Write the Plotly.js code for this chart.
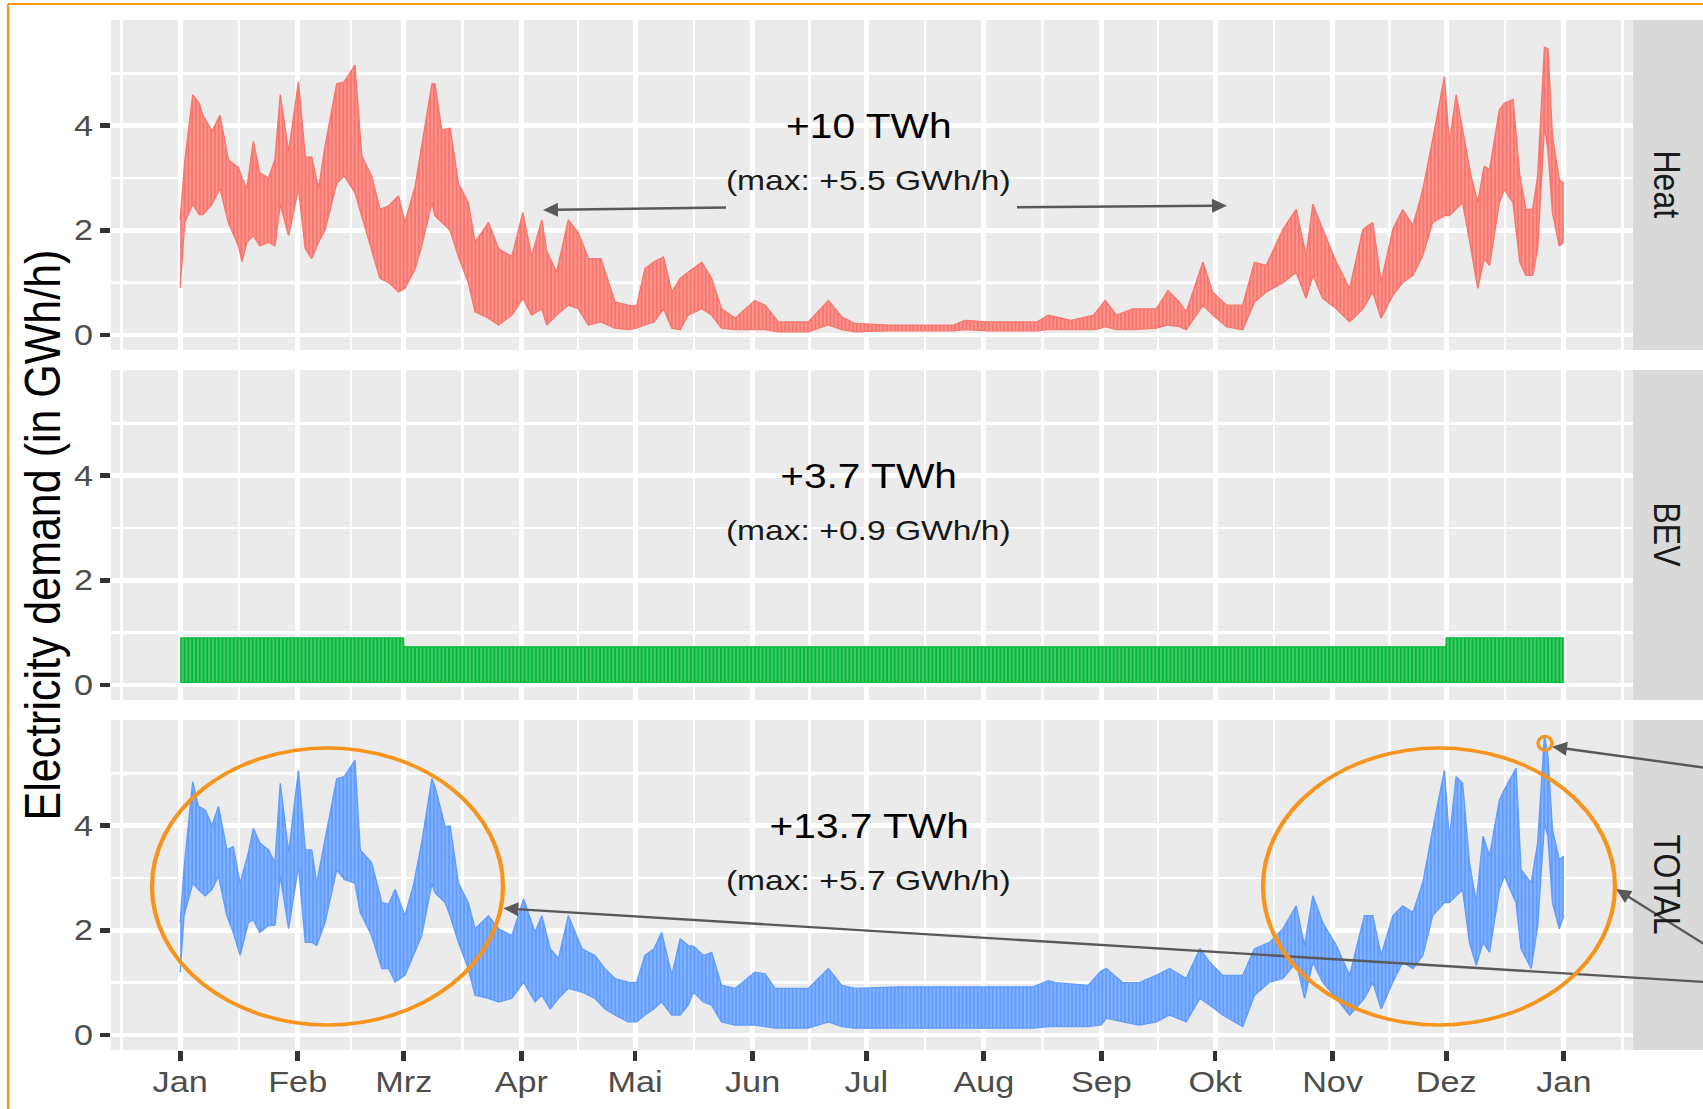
<!DOCTYPE html>
<html>
<head>
<meta charset="utf-8">
<script src="https://cdn.plot.ly/plotly-3.0.1.min.js"></script>
<style>
html,body{margin:0;padding:0;background:#ffffff;overflow:hidden;width:1703px;height:1109px;}
#wrap{width:1443px;height:1109px;transform:scaleX(1.18018);transform-origin:0 0;}
</style>
</head>
<body>
<div id="wrap"></div>
<script>
// ---------------- data ----------------
const monthLabels = ['Jan','Feb','Mrz','Apr','Mai','Jun','Jul','Aug','Sep','Okt','Nov','Dez','Jan'];
const monthStartDays = [0,31,59,90,120,151,181,212,243,273,304,334,365];

// Heat: day of year, upper and lower envelope of the hourly profile (GWh/h)
const heatDays = [0,1.2,3.3,5,6,8.4,10.5,12.7,15.4,16.3,17.6,19.3,21,23.3,25,26.4,28.6,31.2,33,34.7,36.5,38.2,41.3,43.3,46.1,47.9,50.5,52.7,55,57.6,59.3,62,63.7,66.4,67.2,69,71.2,73.4,76,77.8,81.3,84,87.5,90.4,92.7,95.4,96.7,99.3,102.4,105,107.7,111,114.7,118.2,120.4,122.6,125,127.5,129.7,131.9,134,137.6,140.2,142.8,146.4,151.6,154.3,157.8,165.7,171,174.5,178,187,196,204,207,213,220,226,229,235,241,243,244,247,251.3,257.5,260.6,263.6,265.4,269.8,272.4,276,280.3,283.4,286.5,290.9,294.4,297,298.8,301.4,305,308.5,312,314.6,316.8,319.9,322.5,325.2,327.8,330.4,333.5,334.8,336.6,338.3,340.5,342.3,344,345.4,348,349.3,351.6,353.4,355,356.8,358.1,359.9,360.8,362,363.8,365];
const heatHi = [2.2,3.3,4.59,4.43,4.2,3.9,4.2,3.35,3.2,3.0,2.8,3.7,3.1,3.0,3.35,4.59,3.5,4.84,3.4,3.4,2.8,3.6,4.8,4.84,5.16,3.42,3.04,2.4,2.47,2.66,2.15,2.85,3.6,4.8,4.8,3.92,3.95,2.9,2.53,1.77,2.15,1.65,1.5,2.34,1.5,2.2,1.6,1.2,2.2,1.96,1.46,1.46,0.63,0.57,0.55,1.27,1.4,1.49,0.82,1.08,1.2,1.39,1.08,0.5,0.32,0.66,0.57,0.25,0.25,0.66,0.35,0.22,0.19,0.19,0.19,0.28,0.25,0.25,0.25,0.38,0.28,0.38,0.57,0.66,0.38,0.5,0.5,0.85,0.63,0.44,1.39,0.82,0.57,0.57,1.39,1.33,2.02,2.4,1.52,2.5,2.02,1.39,0.89,2.02,2.15,1.01,2.02,2.4,2.09,2.78,3.73,4.94,3.67,4.59,3.92,3.04,2.53,3.23,3.16,4.3,4.43,4.5,3.04,2.4,2.4,3.04,5.5,5.47,3.8,2.97,2.9];
const heatLo = [0.9,2.15,2.5,2.3,2.3,2.5,2.8,2.15,1.7,1.4,1.77,1.9,1.7,1.77,1.7,2.5,1.9,2.8,1.65,1.46,1.77,2.0,2.9,3.04,2.72,2.28,1.65,1.08,1.0,0.82,0.89,1.27,1.7,2.53,2.28,2.15,2.0,1.5,1.0,0.44,0.32,0.19,0.38,0.7,0.38,0.5,0.19,0.38,0.57,0.5,0.19,0.25,0.13,0.1,0.13,0.19,0.25,0.5,0.13,0.1,0.38,0.5,0.38,0.13,0.1,0.1,0.1,0.06,0.06,0.19,0.1,0.06,0.08,0.08,0.08,0.1,0.08,0.08,0.08,0.1,0.1,0.1,0.13,0.16,0.1,0.1,0.13,0.19,0.16,0.1,0.57,0.38,0.16,0.1,0.63,0.82,1.0,1.2,0.7,1.14,0.7,0.5,0.25,0.5,0.82,0.32,0.76,1.0,1.14,1.52,2.15,2.28,2.28,2.4,2.53,1.65,0.89,1.46,1.33,2.53,2.78,2.53,1.39,1.14,1.14,1.65,4.0,3.54,2.34,1.7,1.77];

// BEV: day of year, upper and lower envelope
const bevDays = [0,58.9,59,333.9,334,365];
const bevHi = [0.9,0.9,0.73,0.73,0.9,0.9];
const bevLo = [0.05,0.05,0.05,0.05,0.05,0.05];

// TOTAL: day of year, upper and lower envelope
const totalDays = [0,1,3.3,4.8,6.6,8.4,10.1,12.3,14,15.8,18,19.3,21,23.3,25,26.4,28.6,31.2,33,34.7,36,38.2,41.3,43.3,46.1,47.5,50.5,53.2,55,56.7,59.3,61.5,63.7,66.4,67.2,69.9,71.2,73.4,76,77.8,81.3,84,87.5,90.6,93.6,95.4,97.6,99.8,102.4,106,109.4,112,114.7,118.2,120.4,122.6,125,127,129.7,131.9,134,135.4,138,140.2,142.8,146.4,151.6,154.3,156.9,165.7,171,174.5,178,190,205,215,225,229,231,239.5,243,244.3,248.7,253,257.5,261,265.4,269,271.6,275,280.3,283.4,287.4,290.9,294.4,296.6,298.8,301.4,305,308.5,312.4,314.6,316.8,319.9,322.5,325.2,327.8,330.4,333.5,334.8,336.6,338.3,340.1,341.9,343.7,345.4,348,349.3,352.4,353.7,356.4,358.1,359.9,360.8,362,363.8,365];
const totalHi = [2.15,3.16,4.84,4.37,4.3,4.0,4.37,3.54,3.6,2.9,3.48,3.95,3.67,3.54,3.29,4.81,3.48,5.06,3.54,3.54,2.9,3.73,4.9,4.94,5.25,3.54,3.29,2.53,2.5,2.78,2.28,2.85,3.67,4.9,4.75,3.98,4.0,2.9,2.53,2.03,2.28,2.03,1.9,2.6,1.96,2.28,1.65,1.46,2.28,1.65,1.52,1.27,1.08,1.01,1.0,1.52,1.65,1.96,1.14,1.84,1.71,1.7,1.52,1.58,0.95,0.89,1.2,1.17,0.89,0.89,1.27,0.95,0.89,0.92,0.92,0.92,0.92,1.04,1.0,0.95,1.23,1.27,1.0,1.0,1.14,1.27,1.08,1.65,1.39,1.14,1.14,1.65,1.77,2.03,2.47,1.71,2.66,2.15,1.71,1.14,2.28,2.28,1.52,2.28,2.47,2.34,2.91,3.92,5.06,3.73,4.94,4.81,3.29,2.53,3.8,3.42,4.49,4.68,5.1,3.16,2.91,3.67,5.73,5.32,3.92,3.35,3.42];
const totalLo = [1.2,2.28,2.9,2.78,2.66,2.78,3.04,2.28,1.96,1.52,2.15,2.2,1.96,2.09,2.1,3.04,2.03,3.23,1.77,1.77,1.71,2.15,3.16,2.97,2.9,2.34,1.9,1.27,1.27,1.01,1.14,1.52,1.9,2.9,2.72,2.53,2.28,1.77,1.27,0.76,0.7,0.63,0.7,1.01,0.63,0.76,0.5,0.7,0.89,0.82,0.7,0.5,0.38,0.25,0.25,0.38,0.5,0.63,0.38,0.38,0.57,0.82,0.63,0.57,0.25,0.19,0.19,0.16,0.13,0.13,0.25,0.16,0.13,0.13,0.13,0.13,0.13,0.16,0.16,0.16,0.19,0.32,0.25,0.19,0.25,0.38,0.25,0.7,0.57,0.38,0.16,0.76,1.01,1.08,1.39,0.7,1.39,1.01,0.7,0.38,0.7,1.01,0.5,1.01,1.39,1.27,1.52,2.28,2.53,2.53,2.66,2.78,1.77,1.33,1.77,1.58,2.78,3.04,2.53,1.65,1.27,2.09,4.05,3.8,2.53,2.03,2.28];

const panelNames = ['Heat','BEV','TOTAL'];
const energyLabels = ['+10 TWh','+3.7 TWh','+13.7 TWh'];
const maxLabels = ['(max: +5.5 GWh/h)','(max: +0.9 GWh/h)','(max: +5.7 GWh/h)'];
const yTickVals = [0,2,4];
const yMinorVals = [1,3,5];

// ---------------- styling / layout ----------------
const W = 1703, H = 1109;           // final picture size
const px = x => x / W;              // final-pixel x -> paper
const py = y => 1 - y / H;          // final-pixel y -> paper
const COLORS = ['#F8766D','#00BA38','#619CFF'];
const LIGHT = ['#FA9D96','#5ACB77','#8CB8FF'];
const FONT = 'Liberation Sans, Arial, Helvetica, sans-serif';
const ORANGE = '#F7941D';
const ARROW = '#595959';

const xDom = [px(111), px(1633)];
const yDoms = [[py(350), py(20)], [py(700), py(370)], [py(1050), py(720)]];

const series = [
  {d: heatDays, hi: heatHi, lo: heatLo},
  {d: bevDays, hi: bevHi, lo: bevLo},
  {d: totalDays, hi: totalHi, lo: totalLo}
];

const data = [];
series.forEach((s, i) => {
  const ax = i === 0 ? '' : String(i + 1);
  data.push({x: s.d, y: s.lo, type: 'scatter', mode: 'lines', xaxis: 'x' + ax, yaxis: 'y' + ax,
    line: {color: COLORS[i], width: 1.2}, hoverinfo: 'skip', showlegend: false});
  data.push({x: s.d, y: s.hi, type: 'scatter', mode: 'lines', xaxis: 'x' + ax, yaxis: 'y' + ax,
    fill: 'tonexty', fillcolor: COLORS[i],
    fillpattern: {shape: '|', fgcolor: COLORS[i], bgcolor: LIGHT[i], size: 3.2, solidity: 0.6, fillmode: 'replace'},
    line: {color: COLORS[i], width: 1.2}, hoverinfo: 'skip', showlegend: false});
});

// minor x grid: midpoints between month starts (as ggplot does)
const extStarts = [-31].concat(monthStartDays, [396]);
const xMinor = [];
for (let k = 0; k < extStarts.length - 1; k++) xMinor.push((extStarts[k] + extStarts[k + 1]) / 2);

const layout = {
  width: 1443, height: H, autosize: false,
  margin: {l: 0, r: 0, t: 0, b: 0, pad: 0},
  paper_bgcolor: '#FFFFFF', plot_bgcolor: '#EBEBEB',
  font: {family: FONT, color: '#4D4D4D'},
  showlegend: false,
  shapes: [], annotations: []
};

for (let i = 0; i < 3; i++) {
  const sfx = i === 0 ? '' : String(i + 1);
  const bottom = i === 2;
  layout['xaxis' + sfx] = {
    domain: xDom, range: [-18.25, 383.25], anchor: 'y' + sfx,
    tickmode: 'array', tickvals: monthStartDays, ticktext: monthLabels,
    showticklabels: bottom, ticks: bottom ? 'outside' : '', ticklen: 10, tickwidth: 4, tickcolor: '#333333',
    ticklabelstandoff: -4,
    tickfont: {family: FONT, size: 29, color: '#4D4D4D'},
    showgrid: true, gridcolor: '#FFFFFF', gridwidth: 4.2, zeroline: false, showline: false,
    minor: {tickmode: 'array', tickvals: xMinor, showgrid: true, gridcolor: '#FFFFFF', gridwidth: 2.1, ticks: ''},
    fixedrange: true
  };
  layout['yaxis' + sfx] = {
    domain: yDoms[i], range: [-0.287, 6.02], anchor: 'x' + sfx,
    tickmode: 'array', tickvals: yTickVals, ticktext: yTickVals.map(String),
    ticks: 'outside', ticklen: 8.5, tickwidth: 4.5, tickcolor: '#333333',
    tickfont: {family: FONT, size: 29, color: '#4D4D4D'},
    showgrid: true, gridcolor: '#FFFFFF', gridwidth: 4.8, zeroline: false, showline: false,
    minor: {tickmode: 'array', tickvals: yMinorVals, showgrid: true, gridcolor: '#FFFFFF', gridwidth: 2.4, ticks: ''},
    fixedrange: true
  };

  // facet strip on the right
  layout.shapes.push({type: 'rect', xref: 'paper', yref: 'paper', x0: px(1633), x1: 1.0,
    y0: yDoms[i][0], y1: yDoms[i][1], fillcolor: '#D9D9D9', line: {width: 0}, layer: 'above'});
  layout.annotations.push({xref: 'paper', yref: 'paper', x: px(1667), y: (yDoms[i][0] + yDoms[i][1]) / 2,
    text: panelNames[i], textangle: 90, showarrow: false, xanchor: 'center', yanchor: 'middle',
    font: {family: FONT, size: 32, color: '#1A1A1A'}});

  // in-panel texts
  const off = 350 * i;
  layout.annotations.push({xref: 'paper', yref: 'paper', x: px(869), y: py(126 + off),
    text: energyLabels[i], showarrow: false, xanchor: 'center', yanchor: 'middle',
    font: {family: FONT, size: 34.5, color: '#000000'}});
  layout.annotations.push({xref: 'paper', yref: 'paper', x: px(869), y: py(180 + off),
    text: maxLabels[i], showarrow: false, xanchor: 'center', yanchor: 'middle',
    font: {family: FONT, size: 28.5, color: '#1A1A1A'}});
}

// y axis title
layout.annotations.push({xref: 'paper', yref: 'paper', x: px(42), y: py(535),
  text: 'Electricity demand (in GWh/h)', textangle: -90, showarrow: false,
  xanchor: 'center', yanchor: 'middle', font: {family: FONT, size: 43, color: '#000000'}});

// orange frame (top and left edges visible)
layout.shapes.push({type: 'line', xref: 'paper', yref: 'paper', x0: px(8), y0: py(4), x1: 1.02, y1: py(4),
  line: {color: ORANGE, width: 2}});
layout.shapes.push({type: 'line', xref: 'paper', yref: 'paper', x0: px(8), y0: py(4), x1: px(8), y1: -0.02,
  line: {color: ORANGE, width: 2}});

// arrows (line + filled head), given in final pixels
function arrow(hx, hy, tx, ty) {
  const dx = hx - tx, dy = hy - ty, L = Math.hypot(dx, dy);
  const ux = dx / L, uy = dy / L, len = 15, hw = 7;
  const bx = hx - ux * len, by = hy - uy * len, nx = -uy, ny = ux;
  layout.shapes.push({type: 'line', xref: 'paper', yref: 'paper', x0: px(tx), y0: py(ty), x1: px(bx + ux * 2), y1: py(by + uy * 2),
    line: {color: ARROW, width: 2.4}, layer: 'above'});
  layout.shapes.push({type: 'path', xref: 'paper', yref: 'paper',
    path: 'M' + px(hx) + ',' + py(hy) + ' L' + px(bx + nx * hw) + ',' + py(by + ny * hw) + ' L' + px(bx - nx * hw) + ',' + py(by - ny * hw) + ' Z',
    fillcolor: ARROW, line: {width: 0}, layer: 'above'});
}
arrow(543, 210, 726, 207.5);
arrow(1227, 205.7, 1017, 207.3);
arrow(503.3, 908.3, 1740, 984.1);
arrow(1616, 889, 1740, 966.5);
arrow(1552, 746.7, 1740, 772.5);

// orange highlight ellipses and the peak marker
layout.shapes.push({type: 'circle', xref: 'paper', yref: 'paper', x0: px(152), x1: px(503), y0: py(1025), y1: py(748),
  line: {color: ORANGE, width: 3.6}, fillcolor: 'rgba(0,0,0,0)'});
layout.shapes.push({type: 'circle', xref: 'paper', yref: 'paper', x0: px(1263), x1: px(1615), y0: py(1025), y1: py(748),
  line: {color: ORANGE, width: 3.6}, fillcolor: 'rgba(0,0,0,0)'});
layout.shapes.push({type: 'circle', xref: 'paper', yref: 'paper', x0: px(1538), x1: px(1552), y0: py(750.3), y1: py(736.3),
  line: {color: ORANGE, width: 3}, fillcolor: 'rgba(0,0,0,0)'});

Plotly.newPlot('wrap', data, layout, {staticPlot: true, displayModeBar: false});
</script>
</body>
</html>
